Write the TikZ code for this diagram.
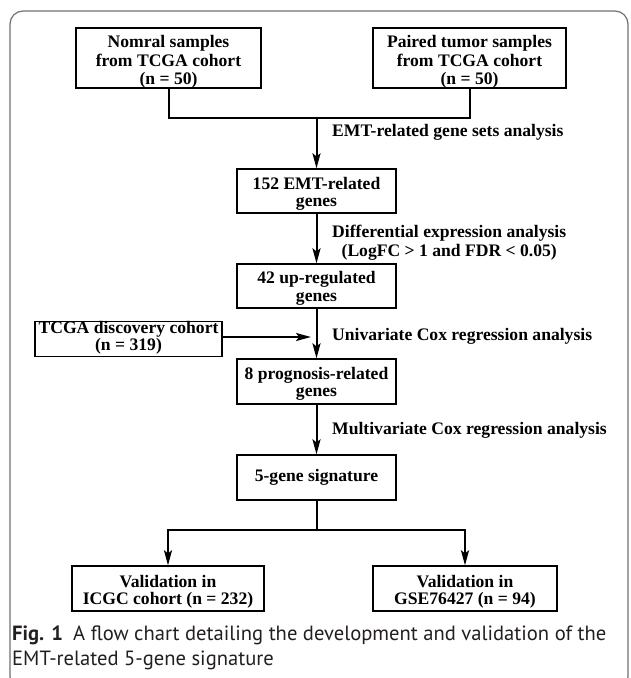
\documentclass[tikz,border=0pt]{standalone}
\usepackage{fontspec}
\setmainfont{Liberation Serif}
\newfontfamily\capfont{PT Sans}
\usetikzlibrary{arrows.meta}
\definecolor{framegray}{HTML}{707070}
\definecolor{captext}{HTML}{231F20}
% box text: #1 = downward shift, #2 = line spacing, #3 = lines
\newcommand{\bt}[3]{\raisebox{-#1}[\height][\depth]{\fontsize{17.6}{#2}\selectfont\begin{tabular}{@{}c@{}}#3\end{tabular}}}
\begin{document}
\begin{tikzpicture}[x=1pt,y=-1pt,
  box/.style={draw, line width=1.3pt, font=\bfseries, align=center, inner sep=0pt},
  conn/.style={line width=2pt},
  arr/.style={conn, -{Stealth[length=15pt,width=8pt,inset=3pt]}},
  lab/.style={font=\fontsize{17.6}{18.7}\selectfont\bfseries, anchor=base west, inner sep=0pt}]
\useasboundingbox (0,0) rectangle (630,678);
\begin{scope}
  \clip (0,0) rectangle (630,678);
  \draw[framegray, line width=1.2pt, rounded corners=13pt] (10,11) rectangle (628,690);
\end{scope}
% boxes
\node[box, minimum width=185pt, minimum height=60pt] (b1) at (168.5,58) {\bt{4.3pt}{18.5}{Nomral samples\\from TCGA cohort\\(n = 50)}};
\node[box, minimum width=193pt, minimum height=60pt] (b2) at (469.5,58) {\bt{4.3pt}{18.5}{Paired tumor samples\\from TCGA cohort\\(n = 50)}};
\node[box, minimum width=159pt, minimum height=44pt] (b3) at (316.5,191) {\bt{3.5pt}{17.5}{152 EMT-related\\genes}};
\node[box, minimum width=159pt, minimum height=44pt] (b4) at (316.5,286) {\bt{2.8pt}{17.5}{42 up-regulated\\genes}};
\node[box, minimum width=187pt, minimum height=34pt] (b5) at (128.5,339) {\bt{-1pt}{16.6}{TCGA discovery cohort\\(n = 319)}};
\node[box, minimum width=159pt, minimum height=45pt] (b6) at (316.5,381.5) {\bt{3.3pt}{17}{8 prognosis-related\\genes}};
\node[box, minimum width=159pt, minimum height=45pt] (b7) at (316.5,477.5) {\bt{0pt}{17.5}{5-gene signature}};
\node[box, minimum width=192pt, minimum height=45pt] (b8) at (168,588.5) {\bt{3.8pt}{16.8}{Validation in\\ICGC cohort (n = 232)}};
\node[box, minimum width=184pt, minimum height=45pt] (b9) at (465,588.5) {\bt{3.8pt}{16.8}{Validation in\\GSE76427 (n = 94)}};
% connectors
\coordinate (j1) at (316.5,118);
\coordinate (j2) at (316.5,530);
\coordinate (t5) at (311,337);
\draw[conn] (b1.south) |- (j1);
\draw[conn] (b2.south) |- (j1);
\draw[arr] (j1) -- (b3.north);
\draw[arr] (b3.south) -- (b4.north);
\draw[arr] (b4.south) -- (b6.north);
\draw[arr] (b5.east |- t5) -- (t5);
\draw[arr] (b6.south) -- (b7.north);
\draw[conn] (b7.south) -- (j2);
\draw[arr] (j2) -| (b8.north);
\draw[arr] (j2) -| (b9.north);
% labels
\node[lab] (l1) at (332,136.7) {EMT-related gene sets analysis};
\node[lab] (l2) at (332,237.3) {\begin{tabular}[t]{@{}c@{}}Differential expression analysis\\(LogFC > 1 and FDR < 0.05)\end{tabular}};
\node[lab] (l3) at (332,340) {Univariate Cox regression analysis};
\node[lab] (l4) at (332,434) {Multivariate Cox regression analysis};
% caption
\node[anchor=base west, inner sep=0pt, text=captext, font=\capfont\fontsize{20.6}{25.7}\selectfont] (cap) at (12,640) {\begin{tabular}[t]{@{}l@{}}\textbf{Fig. 1}\hspace{0.5em}A flow chart detailing the development and validation of the\\EMT-related 5-gene signature\end{tabular}};
\end{tikzpicture}
\end{document}
